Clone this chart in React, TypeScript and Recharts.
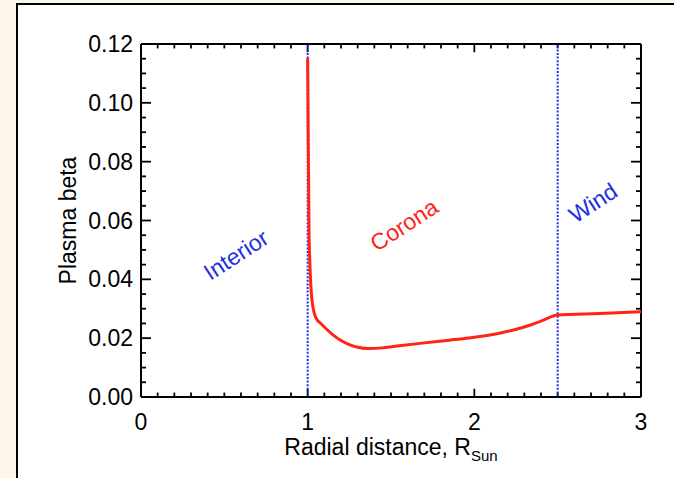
import React from 'react';
import { LineChart, Line, XAxis, YAxis, ReferenceLine, ReferenceDot, Label } from 'recharts';

// Radial distance (R_Sun) and plasma beta
const radius = [1.0, 1.004, 1.008, 1.013, 1.018, 1.024, 1.032, 1.045, 1.06, 1.075, 1.1, 1.15, 1.2, 1.25, 1.3, 1.36, 1.45, 1.55, 1.7, 1.85, 2.0, 2.15, 2.3, 2.4, 2.5, 2.75, 3.0];
const beta = [0.1152, 0.085, 0.057, 0.046, 0.039, 0.034, 0.0305, 0.0275, 0.026, 0.0252, 0.0238, 0.0212, 0.0192, 0.0178, 0.0169, 0.0165, 0.0167, 0.0174, 0.0184, 0.0193, 0.0203, 0.0217, 0.0238, 0.0258, 0.0279, 0.0284, 0.029];

const xTicks = [0, 1, 2, 3];
const yTicks = [0, 0.02, 0.04, 0.06, 0.08, 0.1, 0.12];
const xMinorTicks = [0.1, 0.2, 0.3, 0.4, 0.5, 0.6, 0.7, 0.8, 0.9, 1.1, 1.2, 1.3, 1.4, 1.5, 1.6, 1.7, 1.8, 1.9, 2.1, 2.2, 2.3, 2.4, 2.5, 2.6, 2.7, 2.8, 2.9];
const yMinorTicks = [0.005, 0.01, 0.015, 0.025, 0.03, 0.035, 0.045, 0.05, 0.055, 0.065, 0.07, 0.075, 0.085, 0.09, 0.095, 0.105, 0.11, 0.115];
const boundaries = [1, 2.5];
const regionNames = ['Interior', 'Corona', 'Wind'];
const regionX = [0.57, 1.578, 2.712];
const regionY = [0.0483, 0.0585, 0.066];
const regionColors = ['#1f2fe6', '#ff2414', '#1f2fe6'];

const data = radius.map((r, i) => ({ x: r, beta: beta[i] }));

const X_MAX = 3;
const Y_MAX = 0.12;
// tick lengths in data units
const xMajorLen = 0.0028;
const xMinorLen = 0.0015;
const yMajorLen = 0.06;
const yMinorLen = 0.03;

const FONT = '"Liberation Sans", Arial, Helvetica, sans-serif';

export default function App() {
  const tickSegs: any[] = [];
  xTicks.forEach((t) => {
    tickSegs.push([{ x: t, y: 0 }, { x: t, y: xMajorLen }]);
    tickSegs.push([{ x: t, y: Y_MAX }, { x: t, y: Y_MAX - xMajorLen }]);
  });
  xMinorTicks.forEach((t) => {
    tickSegs.push([{ x: t, y: 0 }, { x: t, y: xMinorLen }]);
    tickSegs.push([{ x: t, y: Y_MAX }, { x: t, y: Y_MAX - xMinorLen }]);
  });
  yTicks.forEach((t) => {
    tickSegs.push([{ x: 0, y: t }, { x: yMajorLen, y: t }]);
    tickSegs.push([{ x: X_MAX, y: t }, { x: X_MAX - yMajorLen, y: t }]);
  });
  yMinorTicks.forEach((t) => {
    tickSegs.push([{ x: 0, y: t }, { x: yMinorLen, y: t }]);
    tickSegs.push([{ x: X_MAX, y: t }, { x: X_MAX - yMinorLen, y: t }]);
  });

  return (
    <div style={{ position: 'absolute', left: 0, top: 0, width: 674, height: 478, overflow: 'hidden', background: '#fdf4ea' }}>
      <div style={{ position: 'absolute', left: 16, top: 3, width: 700, height: 473, background: '#fff', borderLeft: '2px solid #000', borderTop: '2px solid #000', borderBottom: '2px solid #333' }} />
      <div style={{ position: 'absolute', left: 0, top: 0 }}>
        <LineChart width={674} height={478} data={data} margin={{ top: 44, right: 33, bottom: 51, left: 81 }} style={{ fontFamily: FONT }}>
          <XAxis
            dataKey="x"
            type="number"
            domain={[0, X_MAX]}
            ticks={xTicks}
            allowDataOverflow
            height={30}
            tickLine={false}
            tickSize={0}
            tickMargin={17}
            axisLine={{ stroke: '#000', strokeWidth: 2 }}
            tick={{ fill: '#000', fontSize: 23, fontFamily: FONT }}
          >
            <Label
              content={(p: any) => {
                const vb = p.viewBox;
                return (
                  <text x={vb.x + vb.width / 2} y={vb.y + 58} textAnchor="middle" fontSize={23} fill="#000" fontFamily={FONT}>
                    Radial distance, R
                    <tspan fontSize={15} dy={6}>Sun</tspan>
                  </text>
                );
              }}
            />
          </XAxis>
          <YAxis
            type="number"
            domain={[0, Y_MAX]}
            ticks={yTicks}
            allowDataOverflow
            width={60}
            tickLine={false}
            tickSize={0}
            tickMargin={8}
            tickFormatter={(v: number) => v.toFixed(2)}
            axisLine={{ stroke: '#000', strokeWidth: 2 }}
            tick={{ fill: '#000', fontSize: 23, fontFamily: FONT }}
          >
            <Label
              content={(p: any) => {
                const vb = p.viewBox;
                const cx = vb.x - 13;
                const cy = vb.y + vb.height / 2;
                return (
                  <text x={cx} y={cy} transform={`rotate(-90 ${cx} ${cy})`} textAnchor="middle" dominantBaseline="central" fontSize={23} fill="#000" fontFamily={FONT}>
                    Plasma beta
                  </text>
                );
              }}
            />
          </YAxis>
          <ReferenceLine y={Y_MAX} stroke="#000" strokeWidth={2} />
          <ReferenceLine x={X_MAX} stroke="#000" strokeWidth={2} />
          {tickSegs.map((s, i) => (
            <ReferenceLine key={'t' + i} segment={s} stroke="#000" strokeWidth={1.8} />
          ))}
          {boundaries.map((b) => (
            <ReferenceLine key={'b' + b} x={b} stroke="#1f2fe6" strokeWidth={2} strokeDasharray="2 1.6" />
          ))}
          {regionNames.map((n, i) => (
            <ReferenceDot
              key={n}
              x={regionX[i]}
              y={regionY[i]}
              r={0}
              shape={(p: any) => (
                <text
                  x={p.cx}
                  y={p.cy}
                  transform={`rotate(-33 ${p.cx} ${p.cy})`}
                  textAnchor="middle"
                  dominantBaseline="central"
                  fontSize={23}
                  fill={regionColors[i]}
                  fontFamily={FONT}
                >
                  {n}
                </text>
              )}
            />
          ))}
          <Line type="monotone" dataKey="beta" stroke="#ff2414" strokeWidth={3} dot={false} isAnimationActive={false} />
        </LineChart>
      </div>
    </div>
  );
}
